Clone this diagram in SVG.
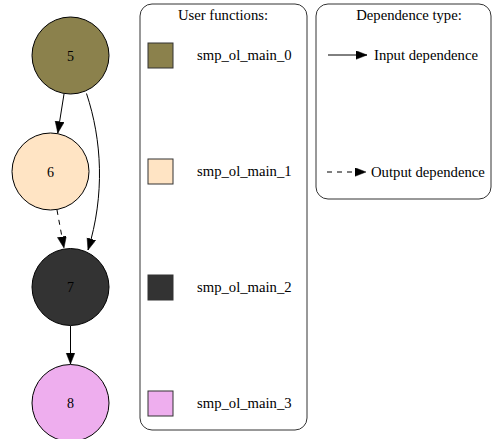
<svg xmlns="http://www.w3.org/2000/svg" width="494" height="439" viewBox="0 0 494 439">
<defs>
<marker id="ah" markerUnits="userSpaceOnUse" markerWidth="13" markerHeight="10" refX="11.5" refY="4.5" orient="auto">
<path d="M0,0 L11.5,4.5 L0,9 z" fill="#000" stroke="#000" stroke-width="0.5"/>
</marker>
<style>
text{font-family:"Liberation Serif","Times New Roman",serif;font-size:14.7px;fill:#000}
.node circle{stroke:#000;stroke-width:1}
.lbl{text-anchor:middle;font-size:14px}
.edge{fill:none;stroke:#000;stroke-width:1;marker-end:url(#ah)}
.dash{stroke-dasharray:5,5}
.box{fill:#fff;stroke:#333;stroke-width:1}
.sw{stroke:#333;stroke-width:1}
</style>
</defs>
<rect width="494" height="439" fill="#fff"/>
<g id="connectors">
<path class="edge" d="M64,94 L57.8,133"/>
<path class="edge" d="M86.5,93.5 C102,140 105,195 88,250"/>
<path class="edge dash" d="M57,210 L64,248"/>
<path class="edge" d="M70.5,326 L70.5,364"/>
</g>
<g id="n5" class="node"><circle cx="70.5" cy="55.5" r="38.5" fill="#8B814C"/><text class="lbl" x="70.5" y="60.5">5</text></g>
<g id="n6" class="node"><circle cx="50.5" cy="171.5" r="38.5" fill="#FFE4C4"/><text class="lbl" x="50.5" y="176.5">6</text></g>
<g id="n7" class="node"><circle cx="70.5" cy="287" r="38.5" fill="#333333"/><text class="lbl" x="70.5" y="292">7</text></g>
<g id="n8" class="node"><circle cx="70.5" cy="403" r="38.5" fill="#EEAEEE"/><text class="lbl" x="70.5" y="408">8</text></g>
<g id="legend-functions">
<rect class="box" x="140" y="4" width="167" height="426" rx="12" ry="12"/>
<text x="223" y="20" text-anchor="middle">User functions:</text>
<rect class="sw" x="148" y="43" width="25" height="25" fill="#8B814C"/>
<text x="197" y="60">smp_ol_main_0</text>
<rect class="sw" x="148" y="159" width="25" height="25" fill="#FFE4C4"/>
<text x="197" y="176">smp_ol_main_1</text>
<rect class="sw" x="148" y="275" width="25" height="25" fill="#333333"/>
<text x="197" y="292">smp_ol_main_2</text>
<rect class="sw" x="148" y="391" width="25" height="25" fill="#EEAEEE"/>
<text x="197" y="408">smp_ol_main_3</text>
</g>
<g id="legend-dependence">
<rect class="box" x="316" y="4" width="175" height="195" rx="12" ry="12"/>
<text x="409" y="20" text-anchor="middle">Dependence type:</text>
<path class="edge" d="M328,55 L367,55"/>
<text x="374" y="60">Input dependence</text>
<path class="edge dash" d="M327,172 L366,172"/>
<text x="371" y="177">Output dependence</text>
</g>
</svg>
